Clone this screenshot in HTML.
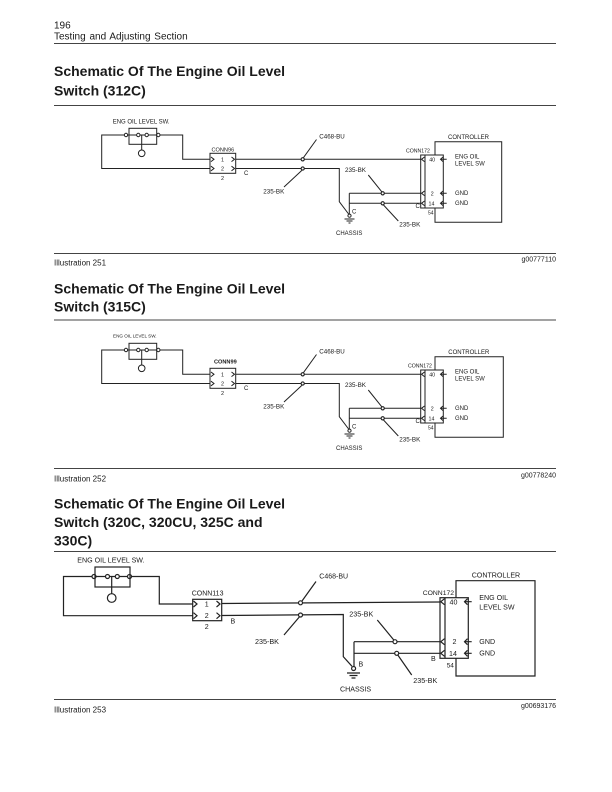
<!DOCTYPE html>
<html><head><meta charset="utf-8"><style>
html,body{margin:0;padding:0;background:#fff;}
svg{display:block;}
text{font-family:"Liberation Sans",Arial,sans-serif;fill:#1a1a1a;}
</style></head><body>
<svg width="612" height="792" viewBox="0 0 612 792" xmlns="http://www.w3.org/2000/svg">
<rect width="612" height="792" fill="#fff"/>

<!-- Header -->
<text x="54" y="28.3" font-size="10">196</text>
<text x="54" y="39.3" font-size="10" word-spacing="1">Testing and Adjusting Section</text>
<g stroke="#444" stroke-width="1">
<line x1="54" y1="43.5" x2="556" y2="43.5"/>
<line x1="54" y1="105.5" x2="556" y2="105.5"/>
<line x1="54" y1="253.5" x2="556" y2="253.5"/>
<line x1="54" y1="320" x2="556" y2="320"/>
<line x1="54" y1="468.5" x2="556" y2="468.5"/>
<line x1="54" y1="551.5" x2="556" y2="551.5"/>
<line x1="54" y1="699.5" x2="556" y2="699.5"/>
</g>

<!-- Titles -->
<g font-size="14" font-weight="bold">
<text x="54" y="76">Schematic Of The Engine Oil Level</text>
<text x="54" y="95.3">Switch (312C)</text>
<text x="54" y="293.3">Schematic Of The Engine Oil Level</text>
<text x="54" y="311.7">Switch (315C)</text>
<text x="54" y="508.3">Schematic Of The Engine Oil Level</text>
<text x="54" y="527">Switch (320C, 320CU, 325C and</text>
<text x="54" y="545.5">330C)</text>
</g>

<!-- Captions -->
<g font-size="8" fill="#333">
<text x="54" y="265.5">Illustration 251</text>
<text x="54" y="481.5">Illustration 252</text>
<text x="54" y="712.5">Illustration 253</text>
</g>
<g font-size="7" text-anchor="end">
<text x="556" y="261.7">g00777110</text>
<text x="556" y="477.3">g00778240</text>
<text x="556" y="708">g00693176</text>
</g>

<!-- Diagram 1 -->
<g>
<g stroke="#222" stroke-width="1" fill="none">
<rect x="129" y="128.3" width="27.7" height="16"/>
<path d="M124.3,135 H101.7 V168.5 H210 M127.7,135 H136.6 M140,135 H145 M148.4,135 H156.6 M160,135 H182.7 V159.3 H210"/>
<circle cx="126" cy="135" r="1.7"/><circle cx="138.3" cy="135" r="1.7"/><circle cx="146.7" cy="135" r="1.7"/><circle cx="158.3" cy="135" r="1.7"/>
<path d="M141.7,135 V150"/><circle cx="141.7" cy="153.3" r="3.3"/>
<rect x="210" y="153.3" width="25.7" height="20"/>
<path d="M211,157 L214,159.3 L211,161.6 M211,166.2 L214,168.5 L211,170.8 M231.5,157 L234.5,159.3 L231.5,161.6 M231.5,166.2 L234.5,168.5 L231.5,170.8"/>
<path d="M235.7,159.3 H420.7 M235.7,168.5 H339.3 V201.7 L348.6,214"/>
<path d="M349.3,193.3 V214 M349.3,193.3 H420.7 M349.3,203.3 H420.7"/>
<circle cx="349.5" cy="215.7" r="1.6"/>
<path d="M344.5,219 H354.5 M346.5,221 H352.5 M348.5,223 H350.5"/>
<path d="M303.5,157.6 L316.5,139.5 M284,187 L302,170.2 M368.3,175 L381.8,191.8 M383.5,205 L398.3,221"/>
<path d="M435,155 V141.7 H501.7 V222.3 H435 V208"/>
<rect x="420.7" y="155" width="22.6" height="53"/>
<path d="M425,155 V208"/>
<path d="M424.5,157 L421.5,159.3 L424.5,161.6 M424.5,191 L421.5,193.3 L424.5,195.6 M424.5,201 L421.5,203.3 L424.5,205.6"/>
<path d="M443,157 L440.5,159.3 L443,161.6 M440.5,159.3 H446.7 M443,191 L440.5,193.3 L443,195.6 M440.5,193.3 H446.7 M443,201 L440.5,203.3 L443,205.6 M440.5,203.3 H446.7"/>
</g>
<g fill="#fff" stroke="#222" stroke-width="1.1">
<circle cx="302.7" cy="159.3" r="1.6"/><circle cx="302.7" cy="168.5" r="1.6"/>
<circle cx="382.7" cy="193.3" r="1.6"/><circle cx="382.7" cy="203.3" r="1.6"/>
</g>
<g font-size="6">
<text x="112.7" y="123.5">ENG OIL LEVEL SW.</text>
<text x="211.5" y="151.3" font-size="5.6">CONN96</text>
<text x="222.5" y="161.3" font-size="5.5" text-anchor="middle">1</text>
<text x="222.5" y="170.7" font-size="5.5" text-anchor="middle">2</text>
<text x="222.5" y="180" font-size="5.5" text-anchor="middle">2</text>
<text x="244" y="175">C</text>
<text x="319.3" y="138.5" font-size="6.2">C468-BU</text>
<text x="263.3" y="193.7" font-size="6.3">235-BK</text>
<text x="345" y="172" font-size="6.3">235-BK</text>
<text x="399.3" y="226.3" font-size="6.3">235-BK</text>
<text x="352" y="213.5">C</text>
<text x="336" y="235">CHASSIS</text>
<text x="406" y="152.5" font-size="5.2">CONN172</text>
<text x="448" y="139">CONTROLLER</text>
<text x="432.2" y="161.5" font-size="5.3" text-anchor="middle">40</text>
<text x="432.2" y="195.3" font-size="5.3" text-anchor="middle">2</text>
<text x="431.5" y="205.3" font-size="5.3" text-anchor="middle">14</text>
<text x="455" y="158.3">ENG OIL</text>
<text x="455" y="165.5">LEVEL SW</text>
<text x="455" y="195">GND</text>
<text x="455" y="205">GND</text>
<text x="415.5" y="208">C</text>
<text x="428" y="214.5" font-size="5">54</text>
</g>
</g>

<!-- Diagram 2 -->
<g transform="translate(0,215)">
<g stroke="#222" stroke-width="1" fill="none">
<rect x="129" y="128.3" width="27.7" height="16"/>
<path d="M124.3,135 H101.7 V168.5 H210 M127.7,135 H136.6 M140,135 H145 M148.4,135 H156.6 M160,135 H182.7 V159.3 H210"/>
<circle cx="126" cy="135" r="1.7"/><circle cx="138.3" cy="135" r="1.7"/><circle cx="146.7" cy="135" r="1.7"/><circle cx="158.3" cy="135" r="1.7"/>
<path d="M141.7,135 V150"/><circle cx="141.7" cy="153.3" r="3.3"/>
<rect x="210" y="153.3" width="25.7" height="20"/>
<path d="M211,157 L214,159.3 L211,161.6 M211,166.2 L214,168.5 L211,170.8 M231.5,157 L234.5,159.3 L231.5,161.6 M231.5,166.2 L234.5,168.5 L231.5,170.8"/>
<path d="M235.7,159.3 H420.7 M235.7,168.5 H339.3 V201.7 L348.6,214"/>
<path d="M349.3,193.3 V214 M349.3,193.3 H420.7 M349.3,203.3 H420.7"/>
<circle cx="349.5" cy="215.7" r="1.6"/>
<path d="M344.5,219 H354.5 M346.5,221 H352.5 M348.5,223 H350.5"/>
<path d="M303.5,157.6 L316.5,139.5 M284,187 L302,170.2 M368.3,175 L381.8,191.8 M383.5,205 L398.3,221"/>
<path d="M435,155 V141.7 H503.3 V222.3 H435 V208"/>
<rect x="420.7" y="155" width="22.6" height="53"/>
<path d="M425,155 V208"/>
<path d="M424.5,157 L421.5,159.3 L424.5,161.6 M424.5,191 L421.5,193.3 L424.5,195.6 M424.5,201 L421.5,203.3 L424.5,205.6"/>
<path d="M443,157 L440.5,159.3 L443,161.6 M440.5,159.3 H446.7 M443,191 L440.5,193.3 L443,195.6 M440.5,193.3 H446.7 M443,201 L440.5,203.3 L443,205.6 M440.5,203.3 H446.7"/>
</g>
<g fill="#fff" stroke="#222" stroke-width="1.1">
<circle cx="302.7" cy="159.3" r="1.6"/><circle cx="302.7" cy="168.5" r="1.6"/>
<circle cx="382.7" cy="193.3" r="1.6"/><circle cx="382.7" cy="203.3" r="1.6"/>
</g>
<g font-size="6">
<text x="113" y="122.5" font-size="4.6">ENG OIL LEVEL SW.</text>
<text x="214" y="148.5" font-size="5.6" font-weight="bold">CONN99</text>
<text x="222.5" y="161.3" font-size="5.5" text-anchor="middle">1</text>
<text x="222.5" y="170.7" font-size="5.5" text-anchor="middle">2</text>
<text x="222.5" y="180" font-size="5.5" text-anchor="middle">2</text>
<text x="244" y="175">C</text>
<text x="319.3" y="138.5" font-size="6.2">C468-BU</text>
<text x="263.3" y="193.7" font-size="6.3">235-BK</text>
<text x="345" y="172" font-size="6.3">235-BK</text>
<text x="399.3" y="226.3" font-size="6.3">235-BK</text>
<text x="352" y="213.5">C</text>
<text x="336" y="235">CHASSIS</text>
<text x="408" y="152.5" font-size="5.2">CONN172</text>
<text x="448.3" y="139">CONTROLLER</text>
<text x="432.2" y="161.5" font-size="5.3" text-anchor="middle">40</text>
<text x="432.2" y="195.3" font-size="5.3" text-anchor="middle">2</text>
<text x="431.5" y="205.3" font-size="5.3" text-anchor="middle">14</text>
<text x="455" y="158.3">ENG OIL</text>
<text x="455" y="165.5">LEVEL SW</text>
<text x="455" y="195">GND</text>
<text x="455" y="205">GND</text>
<text x="415.5" y="208">C</text>
<text x="428" y="214.5" font-size="5">54</text>
</g>
</g>

<!-- Diagram 3 -->
<g>
<g stroke="#222" stroke-width="1.2" fill="none">
<rect x="95" y="567" width="35" height="20"/>
<path d="M92,576.5 H63.5 V615.7 H192.7 M96,576.5 H105.5 M109.5,576.5 H115.3 M119.3,576.5 H127.5 M131.5,576.5 H159.3 V604 H192.7"/>
<circle cx="94" cy="576.5" r="2"/><circle cx="107.5" cy="576.5" r="2"/><circle cx="117.3" cy="576.5" r="2"/><circle cx="129.5" cy="576.5" r="2"/>
<path d="M111.7,576.5 V593.7"/><circle cx="111.7" cy="598" r="4.3"/>
<rect x="192.7" y="599.3" width="29" height="21.4"/>
<path d="M193.5,601 L197,604 L193.5,607 M193.5,612.7 L197,615.7 L193.5,618.7 M216.5,601 L220,604 L216.5,607 M216.5,612.7 L220,615.7 L216.5,618.7"/>
<path d="M221.7,603.5 L440,602 M221.7,615.5 L343.3,614.5 V656.7 L352,666.3"/>
<path d="M354,641.7 V666.3 M354,641.7 H440 M354,653.3 H440"/>
<circle cx="353.6" cy="668.5" r="2"/>
<path d="M347,673 H360 M349.5,675.5 H357.5 M351.5,678 H355.5"/>
<path d="M302,601 L316,581.5 M284,635 L299.3,617 M377.3,620 L393.8,640 M397.8,655 L411.7,675"/>
<path d="M456,597.7 V580.7 H535 V676 H456 V658.3"/>
<rect x="440" y="597.7" width="28.3" height="60.6"/>
<path d="M445,597.7 V658.3"/>
<path d="M444.5,598.7 L440.8,601.7 L444.5,604.7 M444.5,638.7 L440.8,641.7 L444.5,644.7 M444.5,650.3 L440.8,653.3 L444.5,656.3"/>
<path d="M467.5,598.7 L464.5,601.7 L467.5,604.7 M464.5,601.7 H471.7 M467.5,638.7 L464.5,641.7 L467.5,644.7 M464.5,641.7 H471.7 M467.5,650.3 L464.5,653.3 L467.5,656.3 M464.5,653.3 H471.7"/>
</g>
<g fill="#fff" stroke="#222" stroke-width="1.2">
<circle cx="300.5" cy="602.8" r="2"/><circle cx="300.5" cy="615" r="2"/>
<circle cx="395" cy="641.7" r="2"/><circle cx="396.7" cy="653.3" r="2"/>
</g>
<g font-size="7.1">
<text x="77.3" y="562.5">ENG OIL LEVEL SW.</text>
<text x="191.7" y="595.3" font-size="7">CONN113</text>
<text x="206.7" y="606.5" text-anchor="middle">1</text>
<text x="206.7" y="618.2" text-anchor="middle">2</text>
<text x="206.7" y="629" text-anchor="middle">2</text>
<text x="230.5" y="623.5">B</text>
<text x="319.3" y="578.5" font-size="7">C468-BU</text>
<text x="255" y="644" font-size="7.2">235-BK</text>
<text x="349.3" y="616.5" font-size="7.2">235-BK</text>
<text x="413.3" y="683" font-size="7.2">235-BK</text>
<text x="358.5" y="666.5">B</text>
<text x="340" y="691.5">CHASSIS</text>
<text x="422.7" y="595" font-size="6.8">CONN172</text>
<text x="471.7" y="577.5">CONTROLLER</text>
<text x="453.5" y="604.3" text-anchor="middle">40</text>
<text x="454.5" y="644.2" text-anchor="middle">2</text>
<text x="453" y="655.8" text-anchor="middle">14</text>
<text x="479.3" y="600">ENG OIL</text>
<text x="479.3" y="609.3">LEVEL SW</text>
<text x="479.3" y="644.2">GND</text>
<text x="479.3" y="655.5">GND</text>
<text x="431" y="661">B</text>
<text x="446.7" y="667.5" font-size="6.5">54</text>
</g>
</g>
</svg>
</body></html>
